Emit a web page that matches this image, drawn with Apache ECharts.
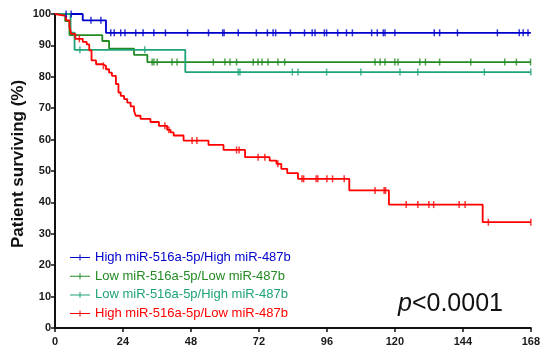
<!DOCTYPE html>
<html><head><meta charset="utf-8">
<script src="https://cdn.jsdelivr.net/npm/echarts@6/dist/echarts.min.js"></script>
<style>html,body{margin:0;padding:0;background:#fff}#c{width:543px;height:354px}</style>
</head><body><div id="c"></div>
<script>
// ---- data (months, % surviving) ----
const xMin = 0, xMax = 168, xInterval = 24;
const yMin = 0, yMax = 100, yInterval = 10;
const seriesNames = [
  'High miR-516a-5p/High miR-487b',
  'Low miR-516a-5p/Low miR-487b',
  'Low miR-516a-5p/High miR-487b',
  'High miR-516a-5p/Low miR-487b'
];
const seriesColors = ['#0000CC', '#238A23', '#1FA378', '#FF0000'];

const blueTimes = [0, 9.8, 18.0];
const blueSurv  = [100, 98.0, 94.0];
const blueCensor = [3.9, 5.7, 12.7, 16.2, 19.7, 20.9, 23.2, 24.7, 28.5, 31.1, 34.9, 39.0, 46.8, 54.2, 59.2, 59.7, 64.7, 71.1, 75.0, 77.0, 77.9, 83.1, 88.1, 90.8, 91.8, 95.1, 95.9, 99.8, 102.9, 105.0, 111.8, 113.8, 115.9, 116.5, 120.0, 133.9, 135.8, 142.1, 156.2, 163.9, 165.3, 167.0];

const greenTimes = [0, 3.6, 5.1, 16.7, 19.1, 27.9, 32.6];
const greenSurv  = [100, 97.7, 93.3, 91.4, 89.0, 87.0, 84.7];
const greenCensor = [34.3, 34.9, 36.1, 41.3, 43.1, 55.9, 60.0, 61.8, 64.1, 70.0, 71.7, 73.1, 75.2, 78.7, 81.1, 113.0, 114.8, 116.5, 120.0, 121.1, 128.8, 130.8, 135.8, 146.8, 158.8, 162.9, 167.9];

const tealTimes = [0, 5.5, 6.9, 46.0];
const tealSurv  = [100, 94.1, 88.6, 81.5];
const tealCensor = [8.8, 31.7, 64.7, 65.3, 83.8, 85.8, 95.9, 108.0, 121.8, 128.1, 151.6, 168.0];

const redTimes = [0, 0.5, 3.9, 5.1, 5.7, 7.2, 9.8, 11.2, 12.1, 12.9, 14.5, 16.8, 18.0, 19.1, 20.1, 21.5, 22.4, 23.2, 24.4, 25.5, 26.7, 27.9, 28.5, 30.2, 33.7, 36.7, 39.6, 40.8, 41.9, 45.4, 54.2, 59.5, 67.1, 75.8, 78.2, 79.9, 82.0, 85.8, 103.9, 117.9, 151.0];
const redSurv  = [100, 99.4, 98.0, 96.0, 93.7, 92.1, 91.1, 90.3, 88.4, 85.2, 84.0, 83.5, 82.4, 81.3, 80.3, 77.7, 75.0, 73.9, 72.9, 71.8, 70.6, 69.2, 67.6, 66.6, 65.6, 64.4, 63.1, 62.3, 61.3, 59.7, 58.3, 56.7, 54.4, 53.3, 52.3, 50.7, 49.3, 47.5, 43.8, 39.3, 33.7];
const redCensor = [8.6, 17.1, 38.8, 40.2, 48.4, 50.1, 64.1, 65.0, 71.7, 74.1, 78.7, 87.2, 87.8, 92.2, 92.8, 96.0, 98.0, 102.1, 113.0, 116.2, 116.7, 124.0, 128.1, 132.0, 133.7, 142.7, 144.8, 153.0, 168.0];

// ---- helpers ----
function stepData(times, surv) {
  const d = times.map((t, i) => [t, surv[i]]);
  d.push([xMax, surv[surv.length - 1]]);
  return d;
}
function survAt(times, surv, t) {
  let s = surv[0];
  for (let i = 0; i < times.length; i++) if (times[i] <= t) s = surv[i];
  return s;
}
const groups = [
  [blueTimes, blueSurv, blueCensor],
  [greenTimes, greenSurv, greenCensor],
  [tealTimes, tealSurv, tealCensor],
  [redTimes, redSurv, redCensor]
];
const FONT = 'Liberation Sans, Arial, sans-serif';
const series = [];
groups.forEach((g, i) => {
  series.push({
    name: seriesNames[i], type: 'line', step: 'end', showSymbol: false, symbol: 'none',
    data: stepData(g[0], g[1]), lineStyle: { color: seriesColors[i], width: 1.8 },
    itemStyle: { color: seriesColors[i] }, z: 2 + i, animation: false
  });
  series.push({
    name: seriesNames[i] + ' censored', type: 'scatter', symbol: 'rect', symbolSize: [1.5, 7],
    data: g[2].map(t => [t, survAt(g[0], g[1], t)]),
    itemStyle: { color: seriesColors[i] }, z: 6 + i, animation: false, silent: true
  });
});

const chart = echarts.init(document.getElementById('c'), null, { renderer: 'canvas' });
function axisCommon(margin) {
  return {
    axisLine: { show: true, lineStyle: { color: '#111', width: 2 } },
    axisTick: { show: true, inside: false, length: 4, lineStyle: { color: '#111', width: 1.5 } },
    axisLabel: { color: '#1a1a1a', fontWeight: 'bold', fontSize: 11, fontFamily: FONT, margin: margin },
    splitLine: { show: false }
  };
}
chart.setOption({
  animation: false,
  backgroundColor: '#fff',
  grid: { left: 55, right: 9, top: 14, bottom: 26, containLabel: false },
  xAxis: Object.assign({ type: 'value', min: xMin, max: xMax, interval: xInterval }, axisCommon(8)),
  yAxis: Object.assign({ type: 'value', min: yMin, max: yMax, interval: yInterval }, axisCommon(4)),
  legend: {
    orient: 'vertical', left: 65, top: 246, itemGap: 5.7, itemWidth: 20, itemHeight: 7,
    icon: 'path://M0,9h40v2h-40z M19,4h2v12h-2z',
    textStyle: { fontSize: 13, fontFamily: FONT },
    data: seriesNames.map((n, i) => ({
      name: n,
      itemStyle: { color: seriesColors[i], borderWidth: 0 },
      lineStyle: { width: 0 },
      textStyle: { color: seriesColors[i] }
    }))
  },
  graphic: [
    { type: 'text', x: 18, y: 164, rotation: Math.PI / 2,
      style: { text: 'Patient surviving (%)', font: 'bold 17px ' + FONT, fill: '#111', textAlign: 'center', textVerticalAlign: 'middle' } },
    { type: 'text', x: 398, y: 304,
      style: { text: '{i|p}{n|<0.0001}', textVerticalAlign: 'middle',
        rich: { i: { fontStyle: 'italic', fontSize: 25, fontFamily: FONT, fill: '#111', color: '#111' },
                n: { fontSize: 25, fontFamily: FONT, fill: '#111', color: '#111' } } } }
  ],
  series: series
});
</script></body></html>
